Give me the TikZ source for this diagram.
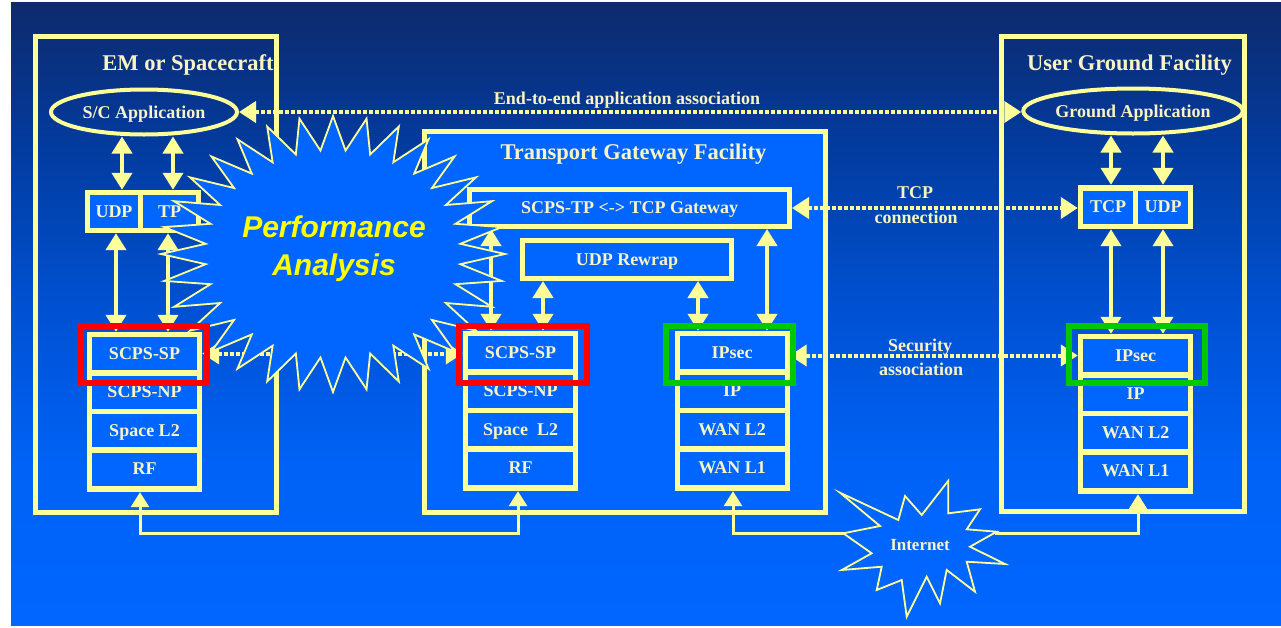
\documentclass[tikz,border=0pt]{standalone}
\usepackage{fontspec}
\setmainfont{Liberation Serif}
\newfontfamily\sansbi{Liberation Sans}
\usetikzlibrary{arrows.meta,shapes.geometric}

\definecolor{pale}{RGB}{255,255,153}
\definecolor{ink}{RGB}{248,244,196}
\definecolor{vivid}{RGB}{0,102,255}
\definecolor{perfyellow}{RGB}{255,255,0}
\definecolor{bgA}{RGB}{0,102,255}
\definecolor{bgB}{RGB}{0,98,246}
\definecolor{bgC}{RGB}{0,80,208}
\definecolor{bgD}{RGB}{2,60,160}
\definecolor{bgE}{RGB}{14,42,108}
\definecolor{hired}{RGB}{255,0,0}
\definecolor{higreen}{RGB}{0,200,0}

\pgfdeclareverticalshading{skyfade}{100bp}{color(0bp)=(bgA); color(25bp)=(bgA); color(38bp)=(bgB); color(51bp)=(bgC); color(63bp)=(bgD); color(75bp)=(bgE); color(100bp)=(bgE)}

\tikzset{
  lbl/.style={text=ink, font=\fontsize{18}{21}\selectfont\bfseries, inner sep=0pt, text depth=0pt},
  ttl/.style={text=ink, font=\fontsize{22.5}{26}\selectfont\bfseries, inner sep=0pt, text depth=0pt},
  facility/.style={draw=pale, line width=5pt, inner sep=0pt, rectangle},
  appl/.style={ellipse, draw=pale, line width=4pt, inner sep=0pt,
    minimum width=186pt, minimum height=45pt, lbl},
  frame/.style={fill=pale, inner sep=0pt, rectangle},
  cell/.style={fill=vivid, inner sep=0pt, minimum height=33pt, lbl},
  bar/.style={draw=pale, fill=vivid, line width=5pt, inner sep=0pt, lbl},
  updown/.style={draw=pale, line width=4pt, >={Triangle[length=17pt,width=20pt]}, <->},
  dotlink/.style={draw=pale, line width=4pt, dash pattern=on 4pt off 2pt,
    >={Triangle[length=17pt,width=21pt]}, <->},
  wire/.style={draw=pale, line width=3pt, >={Triangle[length=15pt,width=18pt]}},
  hi/.style={draw=#1, line width=6pt, inner sep=0pt, rectangle},
  burst/.style={draw=pale, line width=1.8pt, fill=vivid, line join=miter}
}

% a protocol stack: yellow frame with four blue layer cells
\newcommand\layerstack[7]{%
  \node[frame, minimum width=115pt, minimum height=160pt] (#1) at ({#2},{#3+80}) {};
  \node[cell, minimum width=105pt] (#1a) at ({#2},{#3+21.5}) {#4};
  \node[cell, minimum width=105pt] (#1b) at ({#2},{#3+60}) {#5};
  \node[cell, minimum width=105pt] (#1c) at ({#2},{#3+98.5}) {#6};
  \node[cell, minimum width=105pt] (#1d) at ({#2},{#3+137}) {#7};
}

\begin{document}
\begin{tikzpicture}[x=1pt,y=-1pt]
\useasboundingbox (0,0) rectangle (1281,627);
\fill[white] (0,0) rectangle (1281,627);
\shade[shading=skyfade] (11,2) rectangle (1281,625);

% facilities
\node[facility, minimum width=241pt, minimum height=476pt] (em) at (155.5,274) {};
\node[facility, fill=vivid, minimum width=401pt, minimum height=381pt] (tgf) at (624.5,321.5) {};
\node[facility, minimum width=243pt, minimum height=475pt] (ugf) at (1122.5,273.5) {};
\node[ttl] (emtitle) at (188,63) {EM or Spacecraft};
\node[ttl] (tgftitle) at (633.5,152) {Transport Gateway Facility};
\node[ttl] (ugftitle) at (1129.5,63) {User Ground Facility};

% applications
\node[appl] (scapp) at (144,112) {S/C Application};
\node[appl] (gapp) at (1133,111) {Ground Application};

% transport layer pairs
\node[frame, minimum width=116pt, minimum height=43pt] (ltrans) at (143,211.5) {};
\node[cell, minimum width=48pt] (udpL) at (114,211.5) {UDP};
\node[cell, minimum width=53pt] (tpL) at (169.5,211.5) {TP};
\node[frame, minimum width=115pt, minimum height=44pt] (rtrans) at (1135.5,207) {};
\node[cell, minimum width=50pt] (tcpR) at (1108,207) {TCP};
\node[cell, minimum width=50pt] (udpR) at (1163,207) {UDP};

% gateway functions
\node[bar, minimum width=320pt, minimum height=37pt] (gw) at (629.5,208) {SCPS-TP <-> TCP Gateway};
\node[bar, minimum width=209pt, minimum height=38pt] (rw) at (627,259.5) {UDP Rewrap};

% protocol stacks
\layerstack{ls}{144.5}{332}{SCPS-SP}{SCPS-NP}{Space L2}{RF}
\layerstack{ms}{520.5}{331}{SCPS-SP}{SCPS-NP}{Space\ \ L2}{RF}
\layerstack{mi}{732}{331}{IPsec}{IP}{WAN L2}{WAN L1}
\layerstack{rs}{1135.5}{334}{IPsec}{IP}{WAN L2}{WAN L1}

% vertical data paths
\draw[updown] ([xshift=8pt]udpL.center |- scapp.south) -- ([xshift=8pt]udpL.center |- ltrans.north);
\draw[updown] ([xshift=3.5pt]tpL.center |- scapp.south) -- ([xshift=3.5pt]tpL.center |- ltrans.north);
\draw[updown] ([xshift=2pt]udpL.center |- ltrans.south) -- ([xshift=2pt]udpL.center |- ls.north);
\draw[updown] ([xshift=-1.5pt]tpL.center |- ltrans.south) -- ([xshift=-1.5pt]tpL.center |- ls.north);

\draw[updown] ([xshift=3pt]tcpR.center |- gapp.south) -- ([xshift=3pt]tcpR.center |- rtrans.north);
\draw[updown] (udpR.center |- gapp.south) -- (udpR.center |- rtrans.north);
\draw[updown] ([xshift=3pt]tcpR.center |- rtrans.south) -- ([xshift=3pt]tcpR.center |- rs.north);
\draw[updown] (udpR.center |- rtrans.south) -- (udpR.center |- rs.north);

\draw[updown] ([xshift=-29.5pt]ms.north |- gw.south) -- ([xshift=-29.5pt]ms.north);
\draw[updown] ([xshift=22.5pt]ms.north |- rw.south) -- ([xshift=22.5pt]ms.north);
\draw[updown] ([xshift=-34pt]mi.north |- rw.south) -- ([xshift=-34pt]mi.north);
\draw[updown] ([xshift=35pt]mi.north |- gw.south) -- ([xshift=35pt]mi.north);

% peer associations
\draw[dotlink] (scapp.east) -- (gapp.west |- scapp.east);
\node[lbl] (e2e) at (627,98) {End-to-end application association};
\draw[dotlink] (gw.east) -- (rtrans.west |- gw.east);
\node[lbl] (tcplbl) at (915,193) {TCP};
\node[lbl] (connlbl) at (916,217) {connection};
\draw[dotlink] (mi.east |- rsa) -- (rs.west |- rsa);
\node[lbl] (seclbl) at (920,345) {Security};
\node[lbl] (asslbl) at (921,369) {association};
\draw[dotlink] (ls.east |- lsa) -- (ms.west |- lsa);

% physical links
\coordinate (busL) at (0,533);
\coordinate (inetL) at (846,533);
\coordinate (inetR) at (995,533);
\draw[wire, <->] ([xshift=-4.5pt]ls.south) -- ([xshift=-4.5pt]ls.south |- busL)
  -- ([xshift=-2.5pt]ms.south |- busL) -- ([xshift=-2.5pt]ms.south);
\draw[wire, <-] ([xshift=1pt]mi.south) -- ([xshift=1pt]mi.south |- inetL) -- (inetL);
\draw[wire, ->] (inetR) -- ([xshift=2.5pt]rs.south |- inetR) -- ([xshift=2.5pt]rs.south);

% performance analysis burst
\path[burst] plot[variable=\k, samples at={0,...,63}]
  ({333+ifthenelse(mod(\k,2)==0,172,128)*cos(90+5.625*\k)},
   {254+ifthenelse(mod(\k,2)==0,138,104)*sin(90+5.625*\k)}) -- cycle;
\node[text=perfyellow, align=center, inner sep=0pt,
  font=\sansbi\fontsize{30}{38}\selectfont\bfseries\itshape] (perf) at (334,249)
  {Performance\\Analysis};

% internet cloud
\path[burst] (840,492.7) -- (898.3,520) -- (905,496) -- (921.7,515) -- (948.3,480.7)
  -- (948.3,513.3) -- (980,509.3) -- (966.7,529.3) -- (996.7,531.7) -- (970,546.7)
  -- (1005,564) -- (966.7,561.7) -- (975,591.7) -- (946.7,570) -- (940,603.3)
  -- (926.7,576.7) -- (906.7,616.7) -- (901.7,580) -- (876.7,590) -- (881.7,566.7)
  -- (841.7,570) -- (871.7,553.3) -- (843.3,533.3) -- (880,526) -- cycle;
\node[lbl, font=\fontsize{17}{20}\selectfont\bfseries] (inet) at (920,545) {Internet};

% highlighted layers
\node[hi=hired, minimum width=126pt, minimum height=57pt] (selL) at (144,354.5) {};
\node[hi=hired, minimum width=128pt, minimum height=57pt] (selM) at (523,354.5) {};
\node[hi=higreen, minimum width=127pt, minimum height=57pt] (secM) at (729.5,354.5) {};
\node[hi=higreen, minimum width=136pt, minimum height=57pt] (secR) at (1137,354.5) {};
\end{tikzpicture}
\end{document}
